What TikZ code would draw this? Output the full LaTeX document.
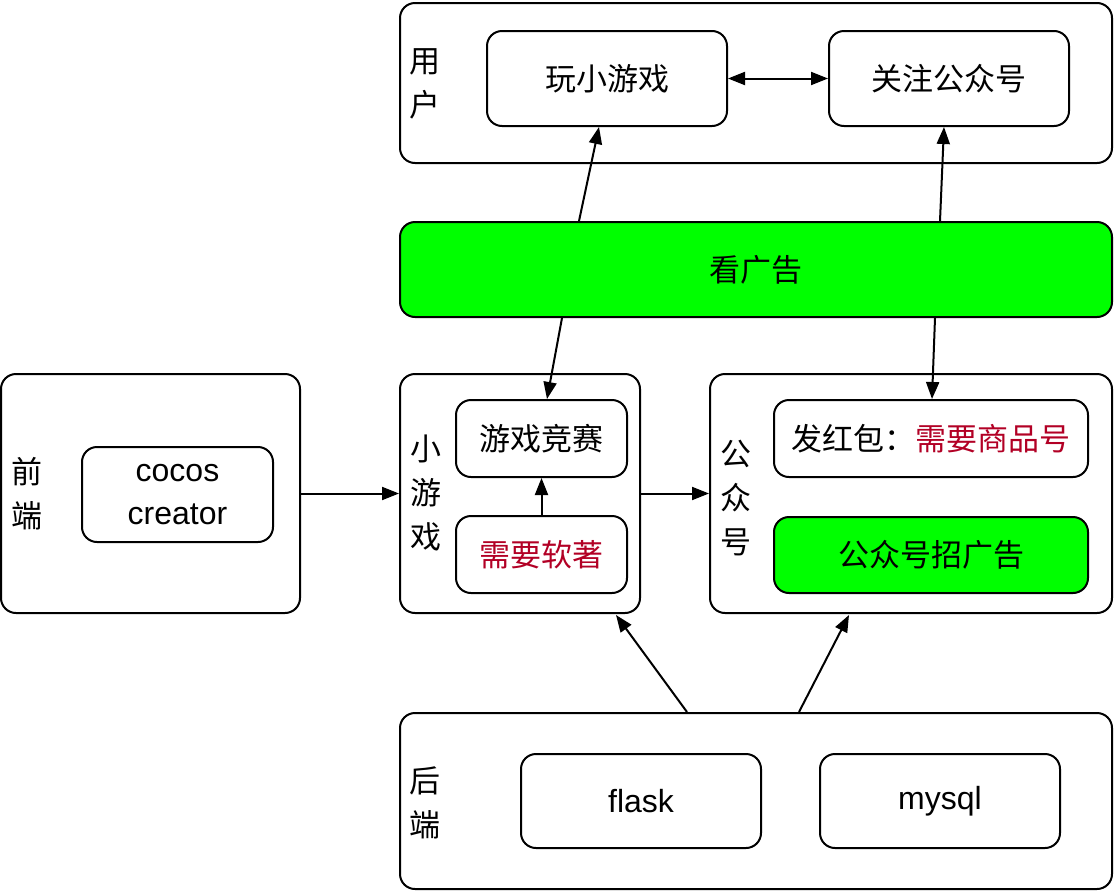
\documentclass[tikz,border=0pt]{standalone}
\usepackage{fontspec}
\setmainfont{Noto Sans CJK SC}
\newfontfamily\latinfont{Liberation Sans}
\usetikzlibrary{arrows.meta,calc}
\definecolor{adgreen}{HTML}{00FF00}
\definecolor{needred}{HTML}{B20025}
\tikzset{
  box/.style={draw=black, line width=2pt, rounded corners=15pt, inner sep=0pt, align=center,
    font=\fontsize{31}{44}\selectfont},
  lbl/.style={inner sep=0pt, align=center, font=\fontsize{31}{44}\selectfont},
  arr/.style={line width=2pt, -{Triangle[length=17pt,width=13pt]}},
  darr/.style={line width=2pt, {Triangle[length=17pt,width=13pt]}-{Triangle[length=17pt,width=13pt]}},
}
\begin{document}
\begin{tikzpicture}[x=1pt,y=-1pt]
\useasboundingbox (0,0) rectangle (1114,892);
% user
\node[box, minimum width=712pt, minimum height=160pt] (user) at (756,83) {};
\node[lbl] (userlbl) at (425,84) {用\\户};
\node[box, minimum width=240pt, minimum height=95pt] (play) at (607,78.5) {玩小游戏};
\node[box, minimum width=240pt, minimum height=95pt] (follow) at (949,78.5) {关注公众号};
% ad
\node[box, fill=adgreen, minimum width=712pt, minimum height=95pt] (ad) at (756,269.5) {看广告};
% front end
\node[box, minimum width=299pt, minimum height=239pt] (fe) at (150.5,493.5) {};
\node[lbl] (felbl) at (27,494) {前\\端};
\node[box, minimum width=191pt, minimum height=95pt, font=\latinfont\fontsize{32}{43}\selectfont] (cocos) at (177.5,494.5) {cocos\\creator};
% mini game
\node[box, minimum width=240pt, minimum height=239pt] (mg) at (520,493.5) {};
\node[lbl] (mglbl) at (426,493.5) {小\\游\\戏};
\node[box, minimum width=171pt, minimum height=77pt] (comp) at (541.5,438.5) {游戏竞赛};
\node[box, minimum width=171pt, minimum height=77pt, text=needred] (soft) at (541.5,554.5) {需要软著};
% official account
\node[box, minimum width=402pt, minimum height=239pt] (gzh) at (911,493.5) {};
\node[lbl] (gzhlbl) at (736,498) {公\\众\\号};
\node[box, minimum width=314pt, minimum height=77pt] (hb) at (931,438.5) {发红包：\textcolor{needred}{需要商品号}};
\node[box, fill=adgreen, minimum width=314pt, minimum height=76pt] (zgg) at (931,555) {公众号招广告};
% back end
\node[box, minimum width=712pt, minimum height=176pt] (be) at (756,801) {};
\node[lbl] (belbl) at (425,803) {后\\端};
\node[box, minimum width=240pt, minimum height=94pt, font=\latinfont\fontsize{32}{43}\selectfont] (flask) at (641,801) {flask};
\node[box, minimum width=240pt, minimum height=94pt, font=\latinfont\fontsize{32}{43}\selectfont] (mysql) at (940,801) {mysql};
% connectors
\draw[arr] ($(ad.north west)+(180,0)$) -- ($(play.south west)+(113,0)$);
\draw[arr] ($(ad.north west)+(541,0)$) -- ($(follow.south west)+(116,0)$);
\draw[darr] (play.east) -- (follow.west);
\draw[arr] ($(ad.south west)+(163,0)$) -- ($(comp.north west)+(92,0)$);
\draw[arr] ($(ad.south west)+(536,0)$) -- ($(hb.north west)+(159,0)$);
\draw[arr] (soft.north) -- (comp.south);
\draw[arr] (fe.east) -- (mg.west);
\draw[arr] (mg.east) -- (gzh.west);
\draw[arr] ($(be.north west)+(288,0)$) -- ($(mg.south west)+(217,1)$);
\draw[arr] ($(be.north west)+(400,0)$) -- ($(gzh.south west)+(140,1)$);
\end{tikzpicture}
\end{document}
